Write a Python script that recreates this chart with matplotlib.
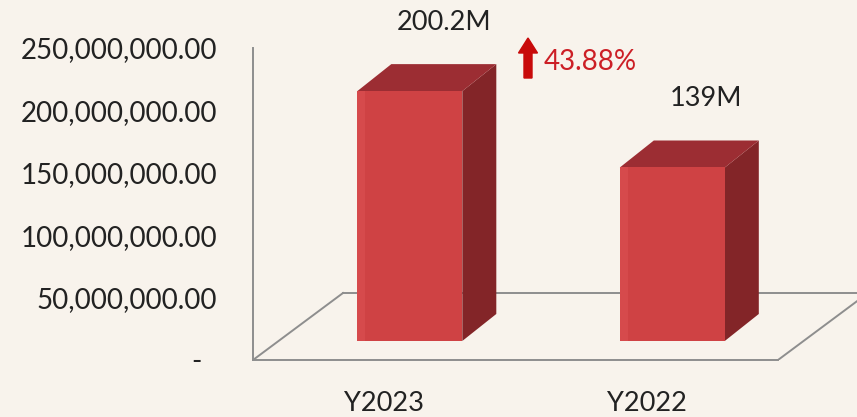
import matplotlib
matplotlib.use("Agg")
import matplotlib.pyplot as plt
import matplotlib.patches as mpatches
from matplotlib.transforms import IdentityTransform
from matplotlib.ticker import FuncFormatter

categories = ["Y2023", "Y2022"]
values = [200.2e6, 139e6]
value_labels = ["200.2M", "139M"]
y_ticks = [0, 50e6, 100e6, 150e6, 200e6, 250e6]
growth_label = "43.88%"

plt.rcParams['font.family'] = ['Lato', 'DejaVu Sans']

W, H = 857, 417
fig = plt.figure(figsize=(W / 100, H / 100), dpi=100, facecolor='#f8f3ec')
ax = fig.add_axes([253 / W, 57 / H, 604 / W, 312 / H])
ax.set_facecolor('none')

# one category step = 262.5 px, 50M = 62.4 px
px_x = 1 / 262.5
px_y = 250e6 / 312
ax.set_xlim(-0.5, -0.5 + 604 * px_x)
ax.set_ylim(0, 250e6)

# fake 3d geometry (oblique projection)
floor_dx, floor_dy = 90 * px_x, 67 * px_y
front_dx, front_dy = 0.284 * floor_dx, 0.284 * floor_dy
depth_dx, depth_dy = 34 * px_x, 27 * px_y
bar_w = 0.4

line_c = '#8e8e8e'
txt_c = '#222222'
n = len(categories)
# floor
ax.plot([-0.5, n - 0.5], [0, 0], color=line_c, lw=1.4, clip_on=False)
ax.plot([-0.5, -0.5 + floor_dx], [0, floor_dy], color=line_c, lw=1.4)
ax.plot([-0.5 + floor_dx, n - 0.5 + floor_dx], [floor_dy, floor_dy], color=line_c, lw=1.4)
ax.plot([n - 0.5, n - 0.5 + floor_dx], [0, floor_dy], color=line_c, lw=1.4)

for i, v in enumerate(values):
    x0 = i + front_dx - bar_w / 2
    x1 = i + front_dx + bar_w / 2
    b = front_dy
    t = front_dy + v
    side = [(x1, b), (x1 + depth_dx, b + depth_dy), (x1 + depth_dx, t + depth_dy), (x1, t)]
    top = [(x0, t), (x1, t), (x1 + depth_dx, t + depth_dy), (x0 + depth_dx, t + depth_dy)]
    ax.add_patch(mpatches.Polygon(side, closed=True, fc='#832528', ec='none', zorder=3))
    ax.add_patch(mpatches.Polygon(top, closed=True, fc='#9c2d33', ec='none', zorder=3))
    ax.add_patch(mpatches.Rectangle((x0, b), bar_w, v, fc='#cf4244', ec='none', zorder=4))
    ax.add_patch(mpatches.Rectangle((x0, b), 0.03, v, fc='#d64a4c', ec='none', zorder=4))
    ax.annotate(value_labels[i], (i + front_dx + depth_dx, t + depth_dy),
                xytext=(0, 30), textcoords='offset points', ha='center', va='center',
                fontsize=19.5, color=txt_c, annotation_clip=False)

ax.set_yticks(y_ticks)
ax.yaxis.set_major_formatter(FuncFormatter(lambda y, p: '-  ' if y == 0 else f'{y:,.2f}'))
ax.set_xticks(range(n))
ax.set_xticklabels(categories)
ax.tick_params(axis='y', length=0, pad=26, labelsize=20, labelcolor=txt_c)
ax.tick_params(axis='x', length=0, pad=22, labelsize=19.5, labelcolor=txt_c)
for s in ['top', 'right', 'bottom']:
    ax.spines[s].set_visible(False)
ax.spines['left'].set_color(line_c)
ax.spines['left'].set_linewidth(1.4)

# growth marker
arrow = mpatches.FancyArrow(528, H - 78, 0, 40, width=8, head_width=19, head_length=15,
                            length_includes_head=True, color='#c80a0a',
                            transform=IdentityTransform())
fig.add_artist(arrow)
fig.text(544 / W, (H - 62) / H, growth_label, ha='left', va='center',
         fontsize=20, color='#cc1f26')

fig.savefig('out.png', dpi=100, facecolor=fig.get_facecolor())
